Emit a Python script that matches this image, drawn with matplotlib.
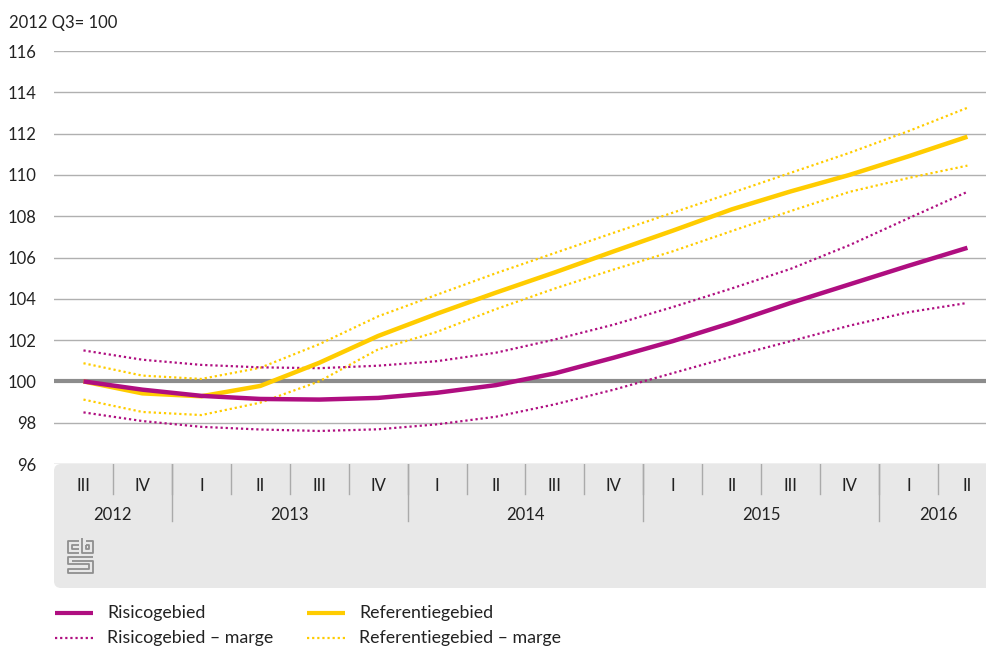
import numpy as np
import matplotlib
matplotlib.use("Agg")
import matplotlib.pyplot as plt
from matplotlib.patches import FancyBboxPatch
from matplotlib.transforms import IdentityTransform
from matplotlib.lines import Line2D

plt.rcParams['font.family'] = ['Lato', 'DejaVu Sans']

# kwartalen 2012 III t/m 2016 II
kwartalen = ['III', 'IV', 'I', 'II', 'III', 'IV', 'I', 'II', 'III', 'IV',
             'I', 'II', 'III', 'IV', 'I', 'II']
jaren = ['2012', '2013', '2014', '2015', '2016']
jaar_start = [0, 2, 6, 10, 14]
jaar_eind = [1, 5, 9, 13, 15]

risico = [100, 99.6, 99.3, 99.15, 99.12, 99.2, 99.45, 99.82, 100.39, 101.15,
          101.95, 102.84, 103.8, 104.7, 105.6, 106.47]
risico_hoog = [101.5, 101.05, 100.8, 100.68, 100.64, 100.76, 100.98, 101.39,
               102.03, 102.75, 103.6, 104.5, 105.45, 106.6, 107.9, 109.18]
risico_laag = [98.5, 98.08, 97.8, 97.67, 97.6, 97.68, 97.92, 98.29, 98.89,
               99.6, 100.4, 101.2, 101.95, 102.7, 103.35, 103.8]
referentie = [100, 99.42, 99.28, 99.78, 100.9, 102.2, 103.28, 104.3, 105.28,
              106.3, 107.3, 108.33, 109.2, 110.0, 110.9, 111.85]
ref_hoog = [100.88, 100.28, 100.12, 100.66, 101.8, 103.15, 104.2, 105.24,
            106.22, 107.2, 108.17, 109.13, 110.1, 111.07, 112.12, 113.25]
ref_laag = [99.12, 98.52, 98.37, 98.97, 100.0, 101.55, 102.4, 103.5, 104.5,
            105.42, 106.3, 107.28, 108.25, 109.18, 109.85, 110.45]
yticks = [96, 98, 100, 102, 104, 106, 108, 110, 112, 114, 116]

paars = '#af0e80'
geel = '#ffcc00'
grijs_tekst = '#222222'
W, H = 987, 648
cat_w = 58.93
x0 = 54

def fx(px):
    return px / W

def fy(py):
    return 1 - py / H

fig = plt.figure(figsize=(W / 100, H / 100), dpi=100)

# grijze band onder de grafiek
band = FancyBboxPatch((x0, H - 588), 1000, 124,
                      boxstyle="round,pad=0,rounding_size=7",
                      transform=IdentityTransform(), facecolor='#e8e8e8',
                      edgecolor='none', zorder=0)
fig.add_artist(band)

xmax = -0.5 + (W - x0) / cat_w
ax = fig.add_axes([fx(x0), fy(464), fx(W - x0), (464 - 51) / H])
ax.set_xlim(-0.5, xmax)
ax.set_ylim(96, 116)
ax.patch.set_alpha(0)
for s in ax.spines.values():
    s.set_visible(False)
ax.set_xticks([])
ax.set_yticks(yticks)
ax.set_yticklabels([str(v) for v in yticks], fontsize=12, color=grijs_tekst)
ax.tick_params(axis='y', length=0, pad=12.5)

for v in yticks:
    if v == 100:
        ax.axhline(v, color='#8c8c8c', lw=3.0, zorder=1)
    else:
        ax.axhline(v, color='#b0b0b0', lw=1.0, zorder=1)

x = np.arange(len(kwartalen))
dot = (0, (1, 1.3))
ax.plot(x, ref_hoog, color=geel, lw=1.6, ls=dot, zorder=3)
ax.plot(x, ref_laag, color=geel, lw=1.6, ls=dot, zorder=3)
ax.plot(x, risico_hoog, color=paars, lw=1.6, ls=dot, zorder=3)
ax.plot(x, risico_laag, color=paars, lw=1.6, ls=dot, zorder=3)
ax.plot(x, referentie, color=geel, lw=3.2, zorder=4, solid_capstyle='butt')
ax.plot(x, risico, color=paars, lw=3.2, zorder=5, solid_capstyle='butt')

fig.text(fx(9), fy(23), '2012 Q3= 100', fontsize=12, color=grijs_tekst,
         ha='left', va='center')

# categorie-as
axb = fig.add_axes([fx(x0), fy(588), fx(W - x0), 124 / H])
axb.set_xlim(-0.5, xmax)
axb.set_ylim(124, 0)
axb.axis('off')
for i, k in enumerate(kwartalen):
    axb.text(i, 22, k, ha='center', va='center', fontsize=12, color=grijs_tekst)
    if i > 0:
        axb.plot([i - 0.5, i - 0.5], [0, 30], color='#aaaaaa', lw=1.0)
for j, jaar in enumerate(jaren):
    xm = (jaar_start[j] + jaar_eind[j]) / 2
    axb.text(xm, 51, jaar, ha='center', va='center', fontsize=12,
             color=grijs_tekst)
    if j > 0:
        axb.plot([jaar_start[j] - 0.5] * 2, [0, 57], color='#aaaaaa', lw=1.0)

# cbs-logo
axl = fig.add_axes([fx(67), fy(574), fx(27), 37 / H])
axl.set_xlim(0, 10)
axl.set_ylim(0, 14)
axl.axis('off')
logo = [
    [(4.3, 12.6), (0.3, 12.6), (0.3, 8.0), (4.3, 8.0)],
    [(4.3, 11.0), (1.8, 11.0), (1.8, 9.6), (4.3, 9.6)],
    [(5.6, 13.8), (5.6, 8.0), (9.7, 8.0), (9.7, 12.6), (7.2, 12.6)],
    [(7.2, 11.0), (8.2, 11.0), (8.2, 9.6), (7.2, 9.6), (7.2, 11.0)],
    [(9.7, 6.6), (0.3, 6.6), (0.3, 3.6), (8.2, 3.6), (8.2, 2.0), (0.3, 2.0),
     (0.3, 0.4), (9.7, 0.4), (9.7, 5.0), (1.8, 5.0)],
]
for seg in logo:
    xs, ys = zip(*seg)
    axl.plot(xs, ys, color='#8f8f8f', lw=1.3, solid_capstyle='butt')

# legenda
leg = [
    (55, 613, paars, '-', 3.0, 'Risicogebied'),
    (307, 613, geel, '-', 3.0, 'Referentiegebied'),
    (55, 638, paars, dot, 1.6, 'Risicogebied \u2013 marge'),
    (307, 638, geel, dot, 1.6, 'Referentiegebied \u2013 marge'),
]
for lx, ly, c, ls, lw, label in leg:
    fig.add_artist(Line2D([fx(lx), fx(lx + 38)], [fy(ly), fy(ly)], color=c,
                          ls=ls, lw=lw, transform=fig.transFigure,
                          solid_capstyle='butt'))
    fig.text(fx(lx + 52), fy(ly), label, fontsize=12.8, color=grijs_tekst,
             ha='left', va='center')

fig.savefig('out.png', dpi=100)
